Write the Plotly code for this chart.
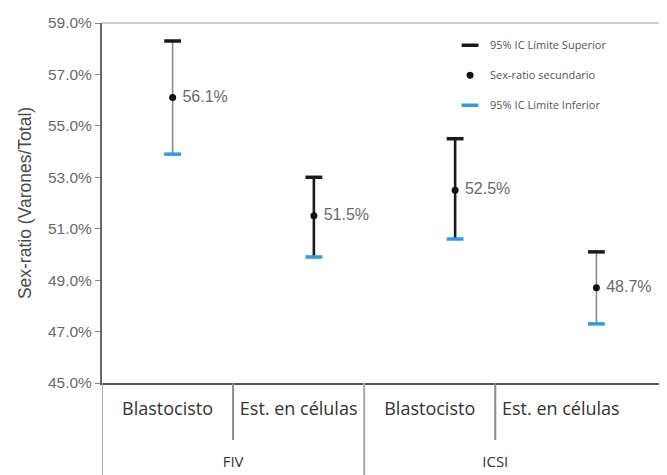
import plotly.graph_objects as go

groups = ["FIV", "ICSI"]
stages = ["Blastocisto", "Est. en células", "Blastocisto", "Est. en células"]
group_of_stage = [0, 0, 1, 1]
upper = [0.583, 0.530, 0.545, 0.501]
ratio = [0.561, 0.515, 0.525, 0.487]
lower = [0.539, 0.499, 0.506, 0.473]
line_colors = ["#8a8a8a", "#1a1a1a", "#1a1a1a", "#8a8a8a"]
y_ticks = [0.45, 0.47, 0.49, 0.51, 0.53, 0.55, 0.57, 0.59]

xpos = list(range(len(stages)))
group_pos = [sum(i for i, g in zip(xpos, group_of_stage) if g == k) /
             group_of_stage.count(k) for k in range(len(groups))]

# page body has an 8px margin, so the figure is sized to fit the viewport
W, H = 659, 467
top_m = 15
plot_bottom = 375          # in figure pixels
dom0 = (H - plot_bottom) / (H - top_m)
inner_sep_end = (H - 432) / (H - top_m)
table_range = [-0.5, 3.81]

fig = go.Figure()

for xi, lo, up, c in zip(xpos, lower, upper, line_colors):
    fig.add_trace(go.Scatter(
        x=[xi, xi], y=[lo, up], mode="lines",
        line=dict(color=c, width=2.6 if c == "#1a1a1a" else 1.6),
        showlegend=False, hoverinfo="skip"))

fig.add_trace(go.Scatter(
    x=xpos, y=upper, mode="markers", name="95% IC Límite Superior", legendgroup="a",
    marker=dict(symbol="line-ew", size=12, line=dict(color="#1a1a1a", width=3.5))))

fig.add_trace(go.Scatter(
    x=xpos, y=ratio, mode="markers+text", name="Sex-ratio secundario", legendgroup="b",
    marker=dict(symbol="circle", size=7, color="#111111"),
    text=[f" {v*100:.1f}%" for v in ratio], textposition="middle right",
    textfont=dict(family="Liberation Sans, Arial", size=16, color="#6a6a6a")))

fig.add_trace(go.Scatter(
    x=xpos, y=lower, mode="markers", name="95% IC Límite Inferior", legendgroup="c",
    marker=dict(symbol="line-ew", size=12, line=dict(color="#2e9be0", width=3.5))))

# invisible traces to activate the table axes
fig.add_trace(go.Scatter(x=[0], y=[None], xaxis="x2", showlegend=False, hoverinfo="skip"))
fig.add_trace(go.Scatter(x=[0], y=[None], xaxis="x3", showlegend=False, hoverinfo="skip"))

# separators of the category table below the plot
inner_bounds = [0.5, 2.5]
outer_bounds = [-0.5, 1.5]
for xb in inner_bounds:
    fig.add_shape(type="line", xref="x2", yref="paper", x0=xb, x1=xb,
                  y0=dom0, y1=inner_sep_end,
                  line=dict(color="#8a8a8a", width=2))
for xb in outer_bounds:
    fig.add_shape(type="line", xref="x2", yref="paper", x0=xb, x1=xb,
                  y0=dom0, y1=0, line=dict(color="#a8a8a8", width=2))

# top border of plot area
fig.add_shape(type="line", xref="paper", yref="paper", x0=0, x1=1, y0=1, y1=1,
              line=dict(color="#bbbbbb", width=1.5))

fig.update_layout(
    width=W, height=H,
    margin=dict(l=94, r=0, t=top_m, b=0, autoexpand=False),
    paper_bgcolor="white", plot_bgcolor="white",
    font=dict(family="Liberation Sans, Arial", color="#555555"),
    showlegend=True,
    legend=dict(x=0.616, y=0.983, xanchor="left", yanchor="top",
                bgcolor="rgba(255,255,255,0)",
                font=dict(family="Open Sans", size=11, color="#555555"),
                tracegroupgap=11, itemwidth=30),
    xaxis=dict(
        range=[-0.5, 3.5], showticklabels=False,
        showline=True, linecolor="#555555", linewidth=2,
        showgrid=False, zeroline=False, ticks="", automargin=False),
    xaxis2=dict(
        overlaying="x", anchor="free", position=dom0, side="bottom",
        range=table_range, tickvals=xpos, ticktext=stages,
        showline=False, showgrid=False, zeroline=False, ticks="", automargin=False,
        ticklabelstandoff=13,
        tickfont=dict(family="Open Sans", size=18, color="#333333")),
    xaxis3=dict(
        overlaying="x", anchor="free", position=dom0, side="bottom",
        range=table_range, tickvals=group_pos, ticktext=groups,
        showline=False, showgrid=False, zeroline=False, ticks="", automargin=False,
        ticklabelstandoff=68,
        tickfont=dict(family="Open Sans", size=15, color="#333333")),
    yaxis=dict(
        domain=[dom0, 1],
        range=[0.45, 0.59], tickvals=y_ticks, tickformat=".1%",
        showline=True, linecolor="#666666", linewidth=2,
        ticks="outside", ticklen=5, tickcolor="#888888",
        showgrid=False, zeroline=False, automargin=False,
        tickfont=dict(size=15.5, color="#6a6a6a"),
        title=dict(text="Sex-ratio (Varones/Total)", font=dict(size=17.5, color="#4a4a4a"),
                   standoff=12)),
)

fig.write_html("out.html")
